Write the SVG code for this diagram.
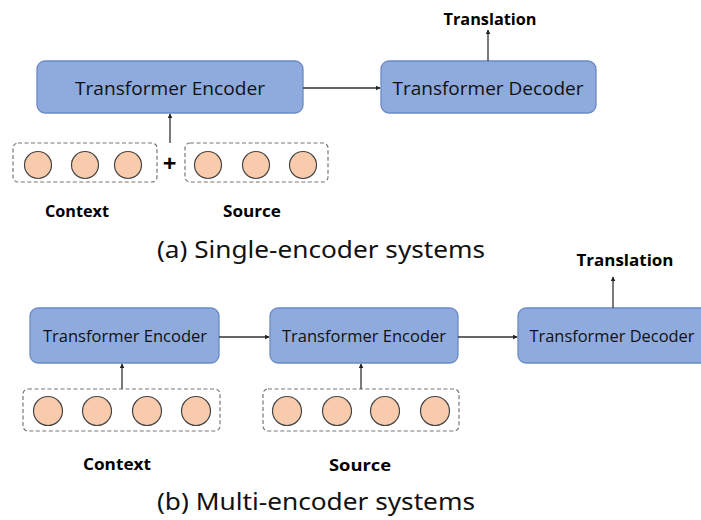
<svg xmlns="http://www.w3.org/2000/svg" width="701" height="520" viewBox="0 0 701 520">
  <style>
    .box { fill: #8faadc; stroke: #6a8ac6; stroke-width: 1.3; }
    .box-text { font-family: "Open Sans", "Noto Sans", sans-serif; fill: #111; text-anchor: middle; }
    .group { fill: none; stroke: #777; stroke-width: 1.2; stroke-dasharray: 4 2.5; }
    .tok { fill: #f8cbad; stroke: #444; stroke-width: 1.2; }
    .label { font-family: "Open Sans", "Noto Sans", sans-serif; font-weight: bold; font-size: 16px; fill: #000; text-anchor: middle; }
    .plus { font-family: "Open Sans", "Noto Sans", sans-serif; font-weight: bold; font-size: 24px; fill: #000; text-anchor: middle; }
    .caption { font-family: "Noto Sans", "Open Sans", sans-serif; font-size: 24px; fill: #111; }
    .edge { stroke: #333; stroke-width: 1.3; fill: none; marker-end: url(#arrow); }
  </style>
  <defs>
    <marker id="arrow" viewBox="0 0 8 8" refX="7" refY="4" markerWidth="5" markerHeight="5" orient="auto" markerUnits="userSpaceOnUse">
      <path d="M0,0 L8,4 L0,8 z" fill="#222"/>
    </marker>
  </defs>

  <rect width="701" height="520" fill="#ffffff"/>

  <!-- (a) single-encoder system -->
  <g id="a-encoder">
    <rect class="box" x="37" y="61" width="266" height="52" rx="8"/>
    <text class="box-text" x="170" y="94.5" font-size="18" textLength="190" lengthAdjust="spacingAndGlyphs">Transformer Encoder</text>
  </g>
  <g id="a-decoder">
    <rect class="box" x="381" y="61" width="215" height="52" rx="8"/>
    <text class="box-text" x="488" y="94.5" font-size="18" textLength="191" lengthAdjust="spacingAndGlyphs">Transformer Decoder</text>
  </g>
  <g id="a-translation">
    <text class="label" x="490" y="25" textLength="93" lengthAdjust="spacingAndGlyphs">Translation</text>
  </g>
  <g id="a-context">
    <rect class="group" x="13" y="143" width="144" height="39" rx="5"/>
    <circle class="tok" cx="38" cy="165" r="13.5"/>
    <circle class="tok" cx="85" cy="165" r="13.5"/>
    <circle class="tok" cx="128" cy="165" r="13.5"/>
    <text class="label" x="77" y="217" textLength="64" lengthAdjust="spacingAndGlyphs">Context</text>
  </g>
  <g id="a-plus">
    <text class="plus" x="169.5" y="172">+</text>
  </g>
  <g id="a-source">
    <rect class="group" x="185" y="143" width="143" height="39" rx="5"/>
    <circle class="tok" cx="208" cy="165" r="13.5"/>
    <circle class="tok" cx="256" cy="165" r="13.5"/>
    <circle class="tok" cx="303" cy="165" r="13.5"/>
    <text class="label" x="252" y="217" textLength="58" lengthAdjust="spacingAndGlyphs">Source</text>
  </g>
  <g id="a-caption">
    <text class="caption" x="157" y="258" textLength="328" lengthAdjust="spacingAndGlyphs">(a) Single-encoder systems</text>
  </g>

  <!-- (b) multi-encoder system -->
  <g id="b-encoder-context">
    <rect class="box" x="30" y="308" width="189" height="55" rx="8"/>
    <text class="box-text" x="125" y="341.5" font-size="16" textLength="164" lengthAdjust="spacingAndGlyphs">Transformer Encoder</text>
  </g>
  <g id="b-encoder-source">
    <rect class="box" x="270" y="308" width="188" height="55" rx="8"/>
    <text class="box-text" x="364" y="341.5" font-size="16" textLength="164" lengthAdjust="spacingAndGlyphs">Transformer Encoder</text>
  </g>
  <g id="b-decoder">
    <rect class="box" x="518" y="308" width="195" height="55" rx="8"/>
    <text class="box-text" x="612" y="341.5" font-size="16" textLength="165" lengthAdjust="spacingAndGlyphs">Transformer Decoder</text>
  </g>
  <g id="b-translation">
    <text class="label" x="625" y="266" textLength="97" lengthAdjust="spacingAndGlyphs">Translation</text>
  </g>
  <g id="b-context">
    <rect class="group" x="23" y="389" width="197" height="42" rx="5"/>
    <circle class="tok" cx="48" cy="411" r="14.5"/>
    <circle class="tok" cx="97" cy="411" r="14.5"/>
    <circle class="tok" cx="147" cy="411" r="14.5"/>
    <circle class="tok" cx="196" cy="411" r="14.5"/>
    <text class="label" x="117" y="470" textLength="68" lengthAdjust="spacingAndGlyphs">Context</text>
  </g>
  <g id="b-source">
    <rect class="group" x="263" y="389" width="196" height="42" rx="5"/>
    <circle class="tok" cx="287" cy="411" r="14.5"/>
    <circle class="tok" cx="337" cy="411" r="14.5"/>
    <circle class="tok" cx="385" cy="411" r="14.5"/>
    <circle class="tok" cx="435" cy="411" r="14.5"/>
    <text class="label" x="360" y="471" textLength="62" lengthAdjust="spacingAndGlyphs">Source</text>
  </g>
  <g id="b-caption">
    <text class="caption" x="157" y="510" textLength="318" lengthAdjust="spacingAndGlyphs">(b) Multi-encoder systems</text>
  </g>

  <!-- connectors -->
  <g id="connectors">
    <line class="edge" x1="303" y1="88" x2="380" y2="88"/>
    <line class="edge" x1="488" y1="61" x2="488" y2="30"/>
    <line class="edge" x1="170" y1="143" x2="170" y2="114"/>
    <line class="edge" x1="219" y1="337" x2="269" y2="337"/>
    <line class="edge" x1="458" y1="337" x2="517" y2="337"/>
    <line class="edge" x1="613" y1="308" x2="613" y2="277"/>
    <line class="edge" x1="122" y1="389" x2="122" y2="364"/>
    <line class="edge" x1="361" y1="389" x2="361" y2="364"/>
  </g>
</svg>
